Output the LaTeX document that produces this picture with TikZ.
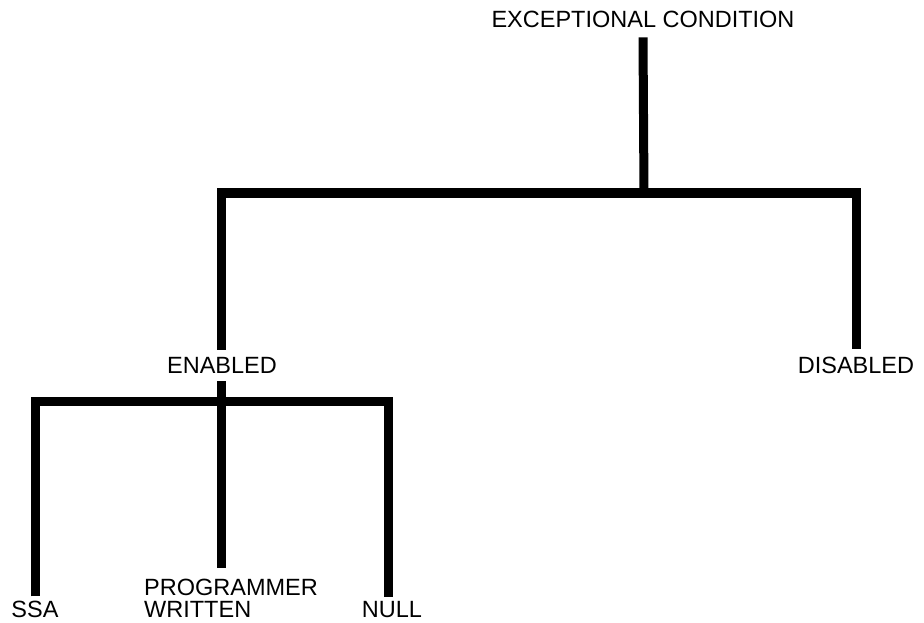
\documentclass[tikz,border=0pt]{standalone}
\usepackage{fontspec}
\setmainfont{Liberation Sans}
\begin{document}
\begin{tikzpicture}[x=1pt,y=-1pt,
  lbl/.style={font=\fontsize{23.5}{22}\selectfont, inner sep=0pt, align=left, anchor=base},
  bar/.style={line width=9pt, line join=miter, line cap=butt}]
\useasboundingbox[fill=white] (0,0) rectangle (924,623);
\node[lbl] (root) at (643,28) {EXCEPTIONAL CONDITION};
\node[lbl] (enabled) at (222,373) {ENABLED};
\node[lbl] (disabled) at (856,373) {DISABLED};
\node[lbl] (ssa) at (35,617) {SSA};
\node[lbl,anchor=base west] (prog) at (144,617) {PROGRAMMER\\WRITTEN};
\node[lbl] (null) at (392,617) {NULL};
\coordinate (bus1) at (644,193);
\coordinate (bus2) at (221,401);
\coordinate (progtop) at ([yshift=10pt]prog.north);
\draw[bar] ([yshift=-9pt]root.south) -- (bus1);
\draw[bar] ([yshift=7pt]enabled.north -| bus2) |- (bus1) -| ([yshift=7pt]disabled.north);
\draw[bar] ([yshift=-8pt]enabled.south -| bus2) -- (bus2);
\draw[bar] ([yshift=4pt]ssa.north) |- (bus2) -| ([yshift=4pt]null.north -| 388,0);
\draw[bar] (bus2) -- (bus2 |- progtop);
\end{tikzpicture}
\end{document}
